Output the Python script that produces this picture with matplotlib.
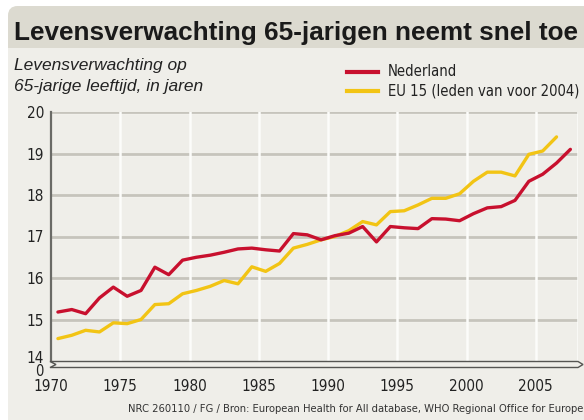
import numpy as np
import matplotlib
matplotlib.use("Agg")
import matplotlib.pyplot as plt
from matplotlib.patches import FancyBboxPatch, Polygon, Rectangle
from matplotlib.transforms import ScaledTranslation

# data
years_nl = np.arange(1970, 2008)
nederland = [15.18, 15.24, 15.14, 15.52, 15.78, 15.56, 15.70, 16.26, 16.08, 16.43,
             16.50, 16.55, 16.62, 16.70, 16.72, 16.68, 16.65, 17.07, 17.04, 16.92,
             17.02, 17.08, 17.24, 16.87, 17.24, 17.21, 17.19, 17.43, 17.42, 17.38,
             17.55, 17.69, 17.72, 17.87, 18.33, 18.50, 18.77, 19.10]
years_eu = np.arange(1970, 2007)
eu15 = [14.54, 14.62, 14.74, 14.70, 14.92, 14.90, 15.00, 15.36, 15.38, 15.62,
        15.70, 15.80, 15.94, 15.86, 16.27, 16.16, 16.35, 16.72, 16.81, 16.92,
        17.00, 17.14, 17.36, 17.28, 17.60, 17.62, 17.76, 17.92, 17.92, 18.03,
        18.33, 18.55, 18.55, 18.46, 18.98, 19.06, 19.40]
series_labels = ["Nederland", "EU 15 (leden van voor 2004)"]
x_ticks = [1970, 1975, 1980, 1985, 1990, 1995, 2000, 2005]
y_ticks = [14, 15, 16, 17, 18, 19, 20]

title = "Levensverwachting 65-jarigen neemt snel toe"
subtitle = ["Levensverwachting op", "65-jarige leeftijd, in jaren"]
source = ("NRC 260110 / FG / Bron: European Health for All database, "
          "WHO Regional Office for Europe")

RED = "#c8102e"
YELLOW = "#f2c414"
PANEL = "#efeee9"
BAND = "#dcdad0"
W, H = 584, 420

cond = dict(family="DejaVu Sans", stretch="condensed")

fig = plt.figure(figsize=(W / 100, H / 100), dpi=100)
fig.patch.set_facecolor("white")


def px(x, y):
    # image pixel coords (origin top-left) -> display coords
    return (x, H - y)


# background panel and title band (behind the axes)
fig.patches.append(FancyBboxPatch(px(8, 430), 600, 424, boxstyle="round,pad=0,rounding_size=10",
                                  transform=None, facecolor=PANEL, edgecolor="none", zorder=-3))
fig.patches.append(FancyBboxPatch(px(8, 48), 600, 42, boxstyle="round,pad=0,rounding_size=10",
                                  transform=None, facecolor=BAND, edgecolor="none", zorder=-2))
fig.patches.append(Rectangle(px(8, 48), 600, 12, transform=None,
                             facecolor=BAND, edgecolor="none", zorder=-2))

fig.text(14 / W, 1 - 40 / H, title, fontsize=18.8, fontweight="bold",
         family="Liberation Sans", color="#1a1a1a", va="baseline")
for i, line in enumerate(subtitle):
    fig.text(14 / W, 1 - (70 + 21 * i) / H, line, fontsize=12.5, style="italic",
             family="Liberation Sans", color="#222222", va="baseline")
fig.text(128 / W, 1 - 412 / H, source, fontsize=8, color="#333333", va="baseline", **cond)

ax = fig.add_axes([51 / W, 1 - 361 / H, (578 - 51) / W, (361 - 112) / H])
ax.set_facecolor(PANEL)
ax.set_xlim(1970, 2008.05)
ax.set_ylim(14, 20)

# shaded horizontal grid, light vertical grid
for yv in y_ticks[1:]:
    ax.plot([1970, 2008.05], [yv - 0.035, yv - 0.035], color="#fbfbf8", lw=1.0, zorder=1)
    ax.axhline(yv, color="#c6c4bc", lw=2.0, zorder=1)
for xv in x_ticks[1:] + [2008.05]:
    ax.axvline(xv, color="#fcfcfa", lw=1.8, zorder=1)

ax.plot(years_eu + 0.5, eu15, color=YELLOW, lw=2.4, solid_joinstyle="round",
        solid_capstyle="round", zorder=3, label=series_labels[1])
ax.plot(years_nl + 0.5, nederland, color=RED, lw=2.4, solid_joinstyle="round",
        solid_capstyle="round", zorder=4, label=series_labels[0])

for s in ["top", "right", "bottom"]:
    ax.spines[s].set_visible(False)
ax.spines["left"].set_color("#6a6a66")
ax.spines["left"].set_linewidth(1.6)

ax.set_xticks(x_ticks)
ax.set_xticklabels([str(v) for v in x_ticks])
ax.set_yticks(y_ticks)
ax.set_yticklabels([str(v) for v in y_ticks])
ax.tick_params(length=0, labelsize=11, colors="#222222")
ax.tick_params(axis="x", pad=13)
ax.tick_params(axis="y", pad=5)
for lab in ax.get_xticklabels() + ax.get_yticklabels():
    lab.set_family("DejaVu Sans")
    lab.set_stretch("condensed")
# the 14 sits a little above the axis, like in the original
lab14 = ax.get_yticklabels()[0]
lab14.set_transform(lab14.get_transform() + ScaledTranslation(0, 4 / 100, fig.dpi_scale_trans))

# ribbon arrow along the bottom, with the axis break and the 0
arrow = [px(50, 361.5), px(578, 361.5), px(583, 364.5), px(578, 367.5),
         px(50, 367.5), px(56, 364.5)]
fig.patches.append(Polygon(arrow, closed=True, transform=None, facecolor=PANEL,
                           edgecolor="#555552", lw=1.0, zorder=5))
fig.text(44 / W, 1 - 372 / H, "0", fontsize=10.5, ha="right", va="center",
         color="#222222", **cond)

# legend, drawn by hand in figure coords
handles, labels = ax.get_legend_handles_labels()
order = [1, 0]
for i, k in enumerate(order):
    yy = 1 - (72 + 19 * i) / H
    fig.add_artist(plt.Line2D([347 / W, 378 / W], [yy, yy], color=handles[k].get_color(),
                              lw=3.0, transform=fig.transFigure))
    fig.text(388 / W, yy, labels[k], fontsize=10.6, va="center", color="#222222", **cond)

fig.savefig("out.png", dpi=100, facecolor=fig.get_facecolor())
